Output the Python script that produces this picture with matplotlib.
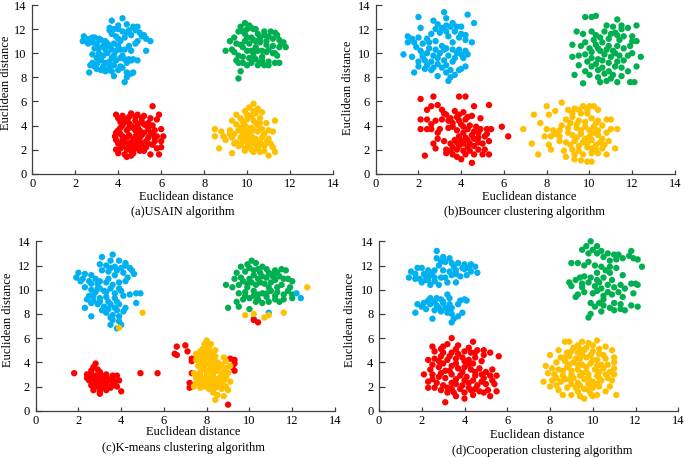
import matplotlib
matplotlib.use("Agg")
import matplotlib.pyplot as plt
import numpy as np

plt.rcParams['font.family'] = ['Liberation Serif', 'DejaVu Serif']

BLUE = '#00B0F0'
GREEN = '#00B050'
RED = '#FF0000'
YELLOW = '#FFC000'

# ---------------- (a) USAIN ----------------
a_blue = [(2.4,11.4),(2.35,11.0),(2.5,11.2),(2.7,11.2),(2.9,11.3),(2.8,10.9),(3.0,10.8),(3.2,11.1),(3.3,10.6),(2.6,10.8),
          (3.7,12.7),(4.2,12.9),(3.6,12.1),(3.8,12.0),(4.0,12.3),(4.4,12.4),(4.7,12.2),(4.9,12.2),(4.5,11.9),(4.2,11.8),
          (3.7,11.6),(3.9,11.4),(4.1,11.0),(4.6,11.5),(5.0,11.7),(5.1,11.4),(5.3,11.2),(5.5,11.0),(5.3,10.2),(4.8,10.8),
          (4.5,10.6),(4.3,10.3),(4.0,10.6),(3.6,10.6),(3.5,10.0),(3.3,9.8),(3.1,10.0),(2.9,10.4),(3.0,9.6),(2.8,9.2),
          (2.7,9.0),(2.65,8.4),(3.0,8.7),(3.2,8.6),(3.4,8.5),(3.6,8.9),(3.8,9.0),(3.9,9.4),(4.2,9.8),(4.4,9.2),
          (4.5,9.5),(4.7,9.5),(4.9,9.4),(4.7,8.4),(4.6,8.3),(4.4,8.0),(4.3,7.6),(3.8,8.1),(4.0,8.6),(4.1,8.9),
          (3.7,9.6),(3.4,9.2),(3.2,9.4),(3.9,10.2),(4.1,9.6),
          (2.5,11.0),(2.8,11.3),(3.1,11.2),(3.4,11.0),(3.5,10.8),(3.8,10.8),(4.0,11.2),(4.3,11.3),(4.4,11.7),(4.8,11.9),
          (4.0,12.0),(3.6,11.9),(4.9,11.0),(5.2,11.5),(3.4,10.3),(3.7,10.3),(4.1,10.3),(2.8,9.9),(3.2,9.7),(3.6,9.3),
          (3.8,9.8),(4.3,9.5),(3.0,9.1),(3.3,8.9),(4.2,8.8),(4.4,8.4),(3.5,8.6),(2.9,8.9),(4.6,9.4),(4.6,10.2),
          (3.7,8.5),(3.1,10.4)]
a_green = [(9.9,12.5),(9.7,12.2),(10.1,12.3),(10.3,12.0),(9.6,11.8),(9.4,11.3),(9.2,11.0),(9.5,10.8),(9.0,10.2),(9.3,10.3),
           (9.5,9.4),(9.6,9.8),(9.8,9.2),(9.7,8.5),(9.6,7.9),(10.0,9.0),(10.2,9.2),(10.5,9.0),(10.8,9.0),(11.0,9.3),
           (11.3,9.2),(11.5,9.2),(11.4,9.8),(11.2,10.0),(11.0,10.3),(10.7,10.2),(10.4,10.5),(10.1,10.8),(9.9,11.0),(10.2,11.3),
           (10.5,11.6),(10.8,11.8),(11.1,11.8),(11.3,11.7),(11.2,11.2),(11.5,11.1),(11.6,10.8),(11.8,10.5),(11.5,10.5),(10.9,11.0),
           (10.6,10.9),(10.3,10.0),(10.0,10.2),(9.8,10.5),(10.1,9.6),(10.4,9.5),(10.7,9.7),(9.9,11.6),(10.3,11.1),(10.0,12.0),
           (10.6,11.3),(11.0,11.4),
           (9.8,11.8),(10.2,12.1),(10.6,11.1),(10.9,10.7),(11.2,10.6),(10.5,10.2),(10.2,10.2),(10.9,10.1),(11.3,10.0),(10.7,9.4),
           (10.3,9.7),(9.8,9.7),(9.4,10.1),(9.7,10.7),(10.0,11.3),(10.4,11.0),(11.0,9.0),(10.6,9.2),(9.6,9.2),(10.8,11.5),
           (11.4,11.5),(11.7,10.9),(10.4,12.0)]
a_red = [(3.9,4.9),(4.0,4.6),(4.3,4.5),(4.6,5.0),(4.9,4.9),(5.2,4.8),(5.6,5.6),(5.5,4.6),(5.9,4.9),(5.8,4.5),
         (4.1,4.3),(4.5,4.2),(4.8,4.4),(5.1,4.3),(5.4,4.2),(6.0,3.7),(5.7,3.6),(5.4,3.7),(5.0,3.6),(4.7,3.8),
         (4.4,3.6),(4.0,3.6),(3.85,3.1),(3.9,2.8),(4.2,3.1),(4.5,3.2),(4.8,3.1),(5.1,3.2),(5.5,3.3),(5.8,3.1),
         (6.1,3.1),(6.0,2.7),(5.7,2.7),(5.3,2.7),(4.9,2.7),(4.6,2.6),(4.3,2.6),(4.0,2.5),(4.1,2.1),(3.9,2.0),
         (4.0,1.7),(4.3,1.6),(4.4,1.4),(4.6,1.9),(4.8,2.1),(5.0,2.2),(5.3,2.2),(5.5,1.6),(5.9,1.6),(5.8,2.1),
         (6.0,2.2),(5.2,1.9),(4.7,1.7),(4.5,2.3),(5.6,2.4),(4.2,4.0),(5.3,4.0),(4.9,3.4),
         (4.2,4.8),(4.5,4.7),(4.8,4.7),(5.1,4.6),(4.3,4.3),(4.6,4.0),(4.9,4.1),(5.2,4.1),(5.6,4.0),(4.1,3.8),
         (4.5,3.8),(4.8,3.6),(5.2,3.4),(5.6,3.4),(4.1,3.3),(4.4,3.0),(4.7,2.9),(5.0,2.9),(5.4,3.0),(4.2,2.8),
         (4.5,2.5),(4.8,2.4),(5.1,2.5),(5.4,2.5),(4.2,2.3),(4.4,2.0),(4.7,2.2),(5.0,1.9),(4.6,1.5),(4.9,3.9),
         (5.7,3.0),(3.9,3.4)]
a_yellow = [(10.3,5.8),(10.1,5.5),(10.5,5.4),(9.5,4.9),(9.7,4.6),(10.0,4.9),(10.2,4.8),(10.6,4.6),(10.9,4.2),(11.3,4.4),
            (9.3,4.4),(9.8,4.3),(10.4,4.2),(8.5,3.7),(8.8,3.5),(9.2,3.6),(8.5,3.1),(8.9,3.1),(9.4,3.3),(9.7,3.0),
            (10.0,3.3),(10.3,3.6),(10.7,3.7),(11.0,3.6),(11.2,3.5),(9.0,2.8),(9.5,2.6),(9.8,2.7),(10.1,2.8),(10.4,2.9),
            (10.7,3.0),(11.0,2.9),(11.1,2.5),(11.2,2.2),(11.3,1.8),(11.0,1.5),(10.5,2.1),(10.2,2.0),(9.9,2.1),(9.6,2.3),
            (9.4,2.5),(9.3,1.7),(8.7,2.1),(10.8,2.3),(10.0,3.8),(9.9,4.0),(10.5,4.0),(10.2,3.1),(9.6,3.6),(10.8,1.9),
            (10.6,2.6),
            (10.3,5.2),(9.9,5.2),(10.4,5.0),(10.7,5.1),(10.0,4.5),(10.3,4.4),(10.6,4.2),(9.5,4.1),(9.7,3.8),(10.2,3.8),
            (10.5,3.5),(10.8,3.3),(9.2,3.3),(9.8,3.3),(10.1,3.5),(9.3,3.0),(9.9,2.9),(10.3,2.6),(10.6,2.4),(9.7,2.4),
            (10.0,2.6),(10.4,2.4),(10.9,2.6),(10.1,2.3),(10.6,1.8),(9.9,1.9),(10.3,1.8),(9.8,3.6)]

# ---------------- (b) Bouncer ----------------
b_blue = [(2.0,13.0),(3.2,13.4),(4.3,13.2),(3.3,12.9),(2.7,12.7),(2.1,12.1),(2.8,12.0),(3.1,12.1),(3.5,12.2),(3.8,12.2),
          (3.0,11.7),(3.3,11.8),(3.7,11.8),(4.0,11.6),(4.2,11.5),(4.6,12.5),(4.2,11.1),(4.5,10.9),(1.5,11.4),(1.7,11.2),
          (2.0,11.3),(1.5,10.9),(1.8,10.9),(2.2,10.8),(2.5,10.9),(2.8,11.0),(3.1,10.6),(3.6,10.9),(3.9,10.3),(4.0,9.9),
          (1.3,9.9),(2.1,10.2),(2.4,10.0),(2.7,9.8),(3.0,10.0),(3.4,9.8),(3.7,9.6),(4.1,9.6),(2.0,9.3),(2.3,9.4),
          (2.6,9.3),(2.9,9.1),(3.3,9.0),(3.6,9.3),(1.8,8.4),(2.0,8.9),(2.3,8.7),(2.6,8.6),(2.9,8.1),(3.3,8.4),
          (3.5,8.0),(3.4,7.7),(3.7,8.2),(3.9,8.6),(4.0,8.7),(2.5,10.4),(3.2,10.3),(4.2,10.2),
          (2.9,12.4),(3.3,12.3),(3.6,12.5),(4.0,12.2),(3.4,11.4),(3.9,11.3),(2.6,11.6),(2.4,11.2),(1.9,10.5),(2.2,9.9),
          (2.8,10.3),(3.3,10.4),(3.6,10.3),(2.9,9.6),(3.2,9.4),(2.4,9.0),(2.7,8.8),(3.1,8.8),(3.5,8.6),(2.2,9.7),
          (1.7,9.7),(3.8,10.0),(4.3,9.9),(4.2,8.9)]
b_green = [(9.8,13.0),(10.1,13.0),(10.3,13.1),(11.3,12.8),(11.1,12.2),(11.5,12.3),(11.8,12.1),(12.2,12.3),(9.4,11.8),(9.7,11.6),
           (10.1,11.8),(10.3,11.5),(10.7,11.8),(11.0,11.6),(11.3,11.5),(11.6,11.4),(12.0,11.4),(12.0,11.0),(12.2,11.0),(9.2,10.7),
           (9.6,10.6),(10.0,10.4),(10.3,10.7),(10.6,10.9),(10.9,10.6),(11.3,10.6),(11.6,10.4),(9.2,9.7),(9.5,9.8),(9.8,9.9),
           (10.1,9.6),(10.4,9.5),(10.7,9.9),(11.0,9.7),(11.4,9.8),(11.8,9.8),(12.4,9.7),(9.5,9.0),(9.8,8.5),(10.1,8.9),
           (10.3,9.1),(10.6,8.8),(10.9,8.5),(11.2,8.9),(11.5,8.8),(11.8,8.5),(12.2,8.9),(9.3,8.2),(10.0,8.2),(10.4,8.0),
           (10.8,7.7),(11.0,7.9),(11.3,7.6),(11.9,7.6),(12.1,7.6),(9.7,7.5),(10.5,7.6),(11.1,10.2),(10.5,10.2),
           (10.8,12.3),(11.5,12.0),(11.2,11.7),(10.5,11.3),(10.9,11.2),(11.4,11.1),(11.9,10.6),(10.2,11.1),(9.8,10.9),(10.1,10.1),
           (10.4,10.4),(10.8,10.3),(11.2,10.0),(11.6,9.4),(10.9,9.2),(11.3,9.3),(10.4,8.6),(10.7,8.3),(11.1,8.2),(11.5,8.1),
           (9.9,9.3),(12.0,10.0),(10.6,9.4)]
b_red = [(2.1,6.2),(2.7,6.4),(3.9,6.4),(4.2,6.4),(2.9,5.7),(2.6,5.6),(2.4,5.3),(3.1,5.3),(3.7,5.2),(4.1,5.1),
         (4.6,5.6),(5.3,5.7),(3.5,4.6),(3.8,4.7),(4.2,4.5),(4.5,4.8),(4.9,4.6),(2.1,4.5),(2.4,4.5),(2.8,4.4),
         (3.1,4.5),(3.6,4.2),(4.0,4.1),(4.4,4.0),(4.7,3.9),(2.1,3.7),(2.4,3.7),(2.6,3.7),(3.0,3.7),(3.4,3.8),
         (3.8,3.6),(4.1,3.4),(4.5,3.2),(4.9,3.7),(5.2,3.7),(5.4,3.7),(5.9,3.9),(6.2,3.1),(5.1,3.1),(4.8,3.0),
         (4.3,2.8),(4.0,2.7),(3.7,2.8),(3.2,2.7),(2.9,2.9),(2.7,2.5),(2.8,2.1),(3.3,2.0),(3.6,2.2),(3.9,2.3),
         (4.3,2.2),(4.6,2.3),(5.0,2.5),(5.3,2.7),(3.3,1.7),(3.6,1.6),(3.8,1.4),(4.2,1.6),(4.6,1.6),(5.0,1.6),
         (5.3,1.6),(2.3,1.5),(4.5,0.9),(4.1,1.9),
         (3.3,4.9),(3.9,4.9),(4.3,4.7),(3.4,4.4),(3.9,4.4),(4.1,3.9),(3.6,3.9),(4.3,3.7),(4.6,3.5),(3.9,3.1),
         (4.2,3.0),(4.6,2.9),(3.5,2.5),(3.8,2.6),(4.1,2.5),(4.4,2.5),(4.8,2.6),(3.5,1.9),(3.8,2.0),(4.4,1.9),
         (4.8,2.0),(5.1,2.0),(4.0,1.2),(2.9,3.4),(2.6,4.1),(3.2,5.0),(5.2,3.3),(4.8,3.4)]
b_yellow = [(8.7,5.9),(8.0,5.6),(8.1,4.9),(7.4,4.9),(8.4,5.2),(9.0,5.3),(9.3,5.4),(9.7,5.6),(10.0,5.6),(10.2,5.6),
            (10.4,5.3),(9.6,5.0),(9.9,5.0),(7.7,4.2),(8.9,4.5),(9.2,4.7),(9.5,4.4),(10.1,4.6),(10.4,4.4),(10.8,4.5),
            (11.0,4.5),(6.9,3.7),(8.0,3.7),(8.3,3.6),(8.6,3.6),(9.0,3.8),(9.4,3.8),(9.8,3.9),(10.2,3.9),(10.6,4.0),
            (11.0,3.7),(11.3,3.7),(7.9,3.1),(8.2,3.1),(8.6,3.1),(9.2,3.2),(9.6,3.3),(10.0,3.1),(10.4,3.2),(10.8,3.4),
            (7.3,2.5),(8.1,2.4),(8.9,2.6),(9.3,2.7),(9.7,2.6),(10.1,2.8),(10.5,2.6),(10.9,2.7),(8.2,2.0),(8.8,1.9),
            (9.2,2.0),(9.5,1.9),(9.9,2.2),(10.3,2.0),(10.6,2.1),(11.2,2.1),(7.6,1.6),(8.9,1.4),(9.3,1.2),(9.6,1.1),
            (9.9,1.0),(10.1,1.0),(10.4,1.7),(10.8,1.6),
            (9.5,5.3),(9.9,5.3),(9.2,5.0),(9.4,4.1),(9.8,4.3),(10.3,4.2),(9.1,4.2),(8.7,4.0),(9.6,3.6),(10.0,3.6),
            (10.4,3.6),(9.0,3.4),(9.4,3.0),(9.8,2.9),(10.2,3.4),(10.6,2.9),(9.1,2.4),(9.5,2.3),(9.9,2.5),(10.3,2.4),
            (10.7,2.4),(9.3,1.6),(9.7,1.6),(10.1,1.7),(8.6,2.7),(8.4,3.3),(10.1,2.1)]

# ---------------- (c) K-means ----------------
c_blue = [(3.6,12.9),(3.1,12.7),(3.5,12.4),(3.9,12.4),(4.2,12.2),(3.0,12.1),(3.3,12.0),(3.7,11.9),(4.0,11.8),(4.4,11.8),
          (4.5,11.6),(4.6,11.3),(3.1,11.6),(3.4,11.5),(3.7,11.2),(4.3,11.0),(2.0,11.4),(2.3,11.3),(2.6,11.2),(1.9,11.0),
          (2.2,10.9),(2.5,10.7),(2.8,10.9),(3.0,10.7),(3.3,10.6),(3.9,10.6),(4.2,10.7),(2.3,10.2),(2.6,10.0),(2.9,10.1),
          (3.2,9.9),(3.5,10.1),(3.9,10.1),(4.4,9.6),(4.7,9.7),(4.9,9.7),(2.4,9.2),(2.7,9.5),(3.0,9.3),(3.3,9.4),
          (3.7,9.3),(4.1,9.5),(2.3,8.5),(2.6,8.9),(2.9,8.8),(3.2,8.6),(3.5,8.8),(3.9,8.8),(4.2,8.5),(4.7,8.9),
          (2.6,7.8),(3.3,8.1),(3.6,7.9),(3.9,7.8),(3.5,7.7),(3.9,7.4),(4.0,7.1),(3.5,7.1),(3.8,6.8),(4.1,8.2),
          (3.0,9.0),
          (3.5,11.8),(3.8,11.6),(4.1,11.4),(4.2,12.0),(2.6,10.5),(2.9,10.5),(3.4,10.9),(3.6,10.4),(3.0,10.1),(3.3,9.8),
          (3.7,9.7),(4.0,9.9),(2.8,9.8),(2.7,9.1),(3.4,9.0),(3.8,9.0),(3.1,8.3),(3.4,8.4),(3.7,8.5),(2.5,9.5),
          (2.1,10.7),(3.6,7.5),(3.8,8.3),
          (12.2,9.7),(12.4,9.3),(10.9,8.1),(10.2,7.6)]
c_green = [(10.1,12.4),(9.9,12.1),(10.3,12.2),(10.6,11.9),(9.6,11.9),(9.4,11.4),(9.8,11.5),(10.2,11.6),(10.5,11.4),(10.9,11.4),
           (11.2,11.6),(11.5,11.7),(11.7,11.6),(9.3,10.9),(9.6,11.0),(10.0,10.9),(10.4,10.9),(10.8,11.0),(11.1,11.1),(11.4,11.1),
           (11.8,10.9),(12.0,10.7),(8.9,10.4),(9.2,10.2),(9.5,10.4),(9.9,10.5),(10.3,10.4),(10.7,10.5),(11.0,10.6),(11.5,10.4),
           (11.9,10.2),(9.5,9.7),(9.8,9.8),(10.2,9.9),(10.6,9.7),(11.0,9.9),(11.3,9.8),(11.6,9.6),(12.0,9.6),(9.4,9.0),
           (9.7,9.2),(10.0,9.3),(10.4,9.2),(10.8,9.4),(11.2,9.2),(11.6,9.2),(12.0,9.3),(10.3,9.0),(10.6,8.9),(10.0,8.4),
           (9.0,8.5),(9.5,8.6),(10.9,9.0),
           (10.0,11.8),(10.4,11.7),(10.8,11.7),(10.2,11.2),(10.6,11.1),(11.0,11.3),(11.3,11.4),(9.9,10.2),(10.1,10.6),(10.5,10.6),
           (10.9,10.2),(11.3,10.2),(11.2,10.8),(11.6,10.9),(10.4,9.6),(10.8,9.7),(11.2,9.5),(9.8,9.5),(10.2,9.5),(11.8,9.9),
           (11.4,9.0),(9.7,10.7)]
c_red = [(2.8,3.9),(2.7,3.6),(2.6,3.3),(3.0,3.2),(2.4,3.0),(1.8,3.1),(2.5,2.8),(2.8,2.9),(3.1,2.9),(3.3,2.8),
         (3.6,2.9),(3.8,2.9),(2.5,2.5),(2.8,2.4),(3.0,2.6),(3.2,2.4),(3.5,2.5),(3.7,2.4),(2.6,2.1),(2.9,2.0),
         (3.1,2.1),(3.4,2.0),(3.6,2.1),(3.8,2.0),(2.7,1.7),(3.0,1.6),(3.3,1.7),(3.0,1.4),(4.0,1.6),(3.5,1.9),
         (2.9,3.4),(3.3,3.0),(2.6,3.0),(2.9,2.7),(3.2,2.7),(3.4,2.6),(2.7,2.6),(3.0,2.3),(3.3,2.2),(2.8,2.2),
         (3.1,1.9),(2.4,2.7),(3.6,2.6),(3.9,2.5),
         (4.9,3.1),(5.7,3.1),(9.0,0.5),
         (6.5,4.7),(6.6,5.3),(7.0,5.4),(7.1,4.9),(6.6,4.6),(7.3,4.3),(7.3,4.1),(7.3,3.1),(7.2,2.3),(7.2,1.9),
         (7.3,2.0),(9.1,4.3),(9.3,4.2),(9.3,3.9),(9.3,3.3),(9.2,3.6),(10.2,7.5),(10.4,7.3)]
c_yellow = [(8.0,5.8),(7.9,5.5),(8.2,5.5),(7.8,5.1),(8.1,5.1),(8.4,5.0),(7.5,4.7),(7.8,4.7),(8.1,4.6),(8.4,4.5),
            (8.8,4.4),(7.5,4.2),(7.8,4.2),(8.2,4.1),(8.5,4.0),(8.9,4.1),(7.6,3.7),(7.9,3.7),(8.2,3.5),(8.6,3.6),
            (8.9,3.5),(9.1,3.7),(7.4,3.1),(7.7,3.2),(8.0,3.2),(8.3,3.1),(8.7,3.0),(9.0,3.1),(7.5,2.7),(7.8,2.6),
            (8.1,2.7),(8.4,2.6),(8.8,2.5),(9.1,2.4),(7.5,2.3),(7.7,2.2),(8.0,2.2),(8.3,2.1),(8.6,2.2),(8.9,2.0),
            (7.7,1.9),(8.1,1.8),(8.4,1.9),(8.7,1.8),(9.0,1.7),(8.3,1.5),(8.5,1.3),(8.4,0.9),(8.8,1.2),(7.6,2.9),
            (8.5,3.3),(8.2,4.8),(7.9,4.0),
            (8.0,5.3),(7.7,4.9),(8.0,4.9),(7.6,4.4),(8.0,4.4),(8.3,4.3),(7.7,3.9),(8.1,3.8),(8.4,3.8),(8.7,3.8),
            (7.8,3.4),(8.1,3.3),(8.4,3.4),(8.8,3.2),(7.7,2.9),(8.0,2.9),(8.3,2.8),(8.6,2.7),(8.9,2.8),(7.6,2.5),
            (7.9,2.4),(8.2,2.4),(8.5,2.4),(7.9,2.0),(8.2,2.0),(8.5,2.0),(8.7,2.3),(7.4,2.0),
            (12.7,10.2),(11.6,8.1),(10.9,7.9),(10.7,7.7),(9.8,7.9),(10.2,8.0),(5.0,8.1),(3.9,6.85)]

# ---------------- (d) Cooperation ----------------
d_blue = [(2.7,13.2),(2.7,12.6),(3.0,12.7),(3.3,12.6),(2.9,12.3),(3.4,12.2),(3.7,12.2),(4.0,12.1),(4.3,12.1),(4.5,11.9),
          (1.8,11.8),(2.0,11.8),(2.3,11.6),(1.5,11.5),(1.7,11.3),(2.1,11.3),(2.5,11.4),(3.0,11.6),(3.3,11.5),(3.6,11.6),
          (4.0,11.7),(4.3,11.5),(4.6,11.4),(1.4,11.0),(1.9,10.9),(2.3,10.8),(2.6,11.0),(3.1,11.0),(3.4,11.2),(3.8,11.1),
          (2.0,10.6),(2.4,10.4),(2.8,10.4),(3.2,10.6),(3.6,10.6),(2.2,10.8),
          (2.8,12.0),(3.1,12.3),(3.5,11.9),(3.9,11.8),(4.2,11.8),(2.6,11.6),(2.2,11.1),(2.4,11.2),(2.9,11.0),(3.6,11.3),
          (4.1,11.2),(1.7,10.9),(2.6,10.7),
          (3.2,9.6),(2.4,9.3),(2.7,9.3),(3.0,9.0),(3.3,9.3),(3.8,9.1),(4.0,9.2),(4.1,9.1),(1.8,8.8),(2.1,8.9),
          (2.4,8.8),(2.7,8.7),(3.1,8.5),(3.4,8.5),(3.7,8.8),(2.2,8.4),(2.6,8.3),(2.9,8.2),(3.2,8.1),(3.4,8.0),
          (1.7,8.1),(3.9,8.1),(3.7,7.8),(2.5,7.6),(3.5,7.6),(3.4,7.3),(3.0,8.9),(2.0,8.6),
          (2.6,9.0),(2.9,9.2),(3.3,8.8),(2.3,9.1),(2.8,8.5),(3.3,8.3)]
d_green = [(9.9,14.0),(9.7,13.6),(10.2,13.6),(10.0,13.3),(9.5,13.3),(10.4,13.2),(10.7,13.0),(11.0,12.9),(11.2,12.9),(11.8,13.2),
           (11.7,12.8),(11.9,12.6),(12.1,12.5),(10.5,12.7),(11.1,12.5),(9.0,12.2),(9.3,12.2),(9.6,12.0),(10.1,12.0),(10.4,11.9),
           (10.8,11.9),(11.1,11.8),(12.3,11.9),(10.6,11.6),(9.6,11.1),(9.9,11.0),(10.2,10.8),(10.5,11.0),(11.4,11.2),(8.9,10.6),
           (9.2,10.8),(9.5,10.5),(10.1,10.3),(10.4,10.1),(10.7,10.4),(11.0,10.2),(11.3,10.4),(11.8,10.5),(12.1,10.4),(9.0,10.3),
           (9.3,9.6),(9.6,9.8),(10.0,9.7),(10.5,9.5),(10.9,9.6),(11.2,9.8),(11.9,9.7),(9.2,9.4),(10.5,9.2),(11.0,8.9),
           (11.3,8.8),(9.9,8.9),(10.1,8.6),(10.5,8.7),(10.8,8.5),(11.5,8.3),(11.8,8.7),(12.1,8.6),(10.4,8.2),(11.0,8.3),
           (9.9,8.0),(9.8,7.7),
           (9.8,13.0),(10.2,13.0),(10.8,12.4),(11.4,12.6),(9.8,12.3),(10.8,11.4),(10.2,11.4),(9.8,10.6),(10.3,10.6),(10.9,10.8),
           (11.5,10.1),(9.5,10.2),(10.2,9.9),(10.7,9.8),(11.4,9.4),(10.3,8.9),(11.3,8.4),(12.0,10.5),(9.4,11.0)]
d_red = [(3.4,6.0),(2.5,5.3),(2.9,5.1),(3.2,5.5),(3.7,5.4),(4.4,5.7),(2.6,4.9),(3.0,4.8),(3.4,4.8),(3.7,4.7),
         (4.0,4.9),(4.3,4.8),(4.6,5.0),(4.9,5.0),(2.3,4.2),(2.6,4.3),(2.9,4.5),(3.2,4.2),(3.6,4.3),(3.9,4.4),
         (4.2,4.2),(4.5,4.4),(4.8,4.1),(5.6,4.5),(2.5,3.8),(2.8,3.6),(3.1,3.3),(3.4,3.7),(3.7,3.5),(4.0,3.6),
         (4.3,3.4),(4.7,3.5),(5.0,3.2),(5.3,3.4),(5.5,2.9),(2.1,3.0),(2.5,3.0),(2.8,2.8),(3.1,2.7),(3.4,3.0),
         (3.8,2.9),(4.1,2.8),(4.5,2.9),(4.9,2.7),(5.2,2.9),(2.3,2.4),(2.7,2.3),(3.0,2.1),(3.4,2.3),(3.6,2.2),
         (3.9,2.1),(4.2,2.3),(4.6,2.1),(5.0,2.2),(2.3,1.9),(2.6,1.9),(2.9,1.7),(3.2,1.5),(3.5,1.5),(3.8,1.8),
         (4.0,1.5),(4.4,1.3),(4.7,1.6),(5.1,1.7),(5.5,1.6),(3.6,1.2),(4.0,1.0),(3.1,0.7),(5.2,1.2),(4.3,1.7),
         (3.0,5.3),(3.6,5.1),(4.2,5.2),(4.5,4.8),(2.8,4.1),(3.3,4.5),(4.0,4.1),(4.4,3.9),(4.9,4.6),(5.2,4.8),
         (3.0,3.9),(3.6,3.9),(4.2,3.8),(2.4,3.4),(3.3,3.3),(4.5,3.2),(4.8,3.0),(2.9,3.1),(3.6,2.6),(4.0,2.5),
         (4.4,2.5),(4.8,2.4),(5.4,2.2),(2.5,2.6),(3.2,1.9),(4.2,1.9),(4.5,1.8),(4.9,1.5),(3.4,1.8),(5.3,2.5),
         (3.9,3.2)]
d_yellow = [(8.7,5.7),(8.9,5.7),(9.5,5.7),(9.8,5.6),(10.2,5.8),(9.3,5.4),(9.7,5.2),(10.0,5.4),(10.6,5.3),(8.4,5.0),
            (9.0,4.9),(9.3,4.8),(9.6,5.0),(10.0,4.9),(10.3,4.7),(10.9,5.0),(8.0,4.6),(8.5,4.4),(8.9,4.5),(9.2,4.3),
            (9.7,4.4),(10.2,4.2),(10.6,4.3),(11.0,4.4),(8.3,4.0),(8.7,4.1),(9.1,4.0),(9.5,3.8),(9.9,3.9),(10.4,3.8),
            (11.0,4.0),(7.8,3.7),(8.1,3.5),(8.4,3.4),(8.8,3.6),(9.3,3.4),(9.7,3.2),(10.1,3.4),(10.5,3.5),(11.0,3.5),
            (7.9,3.1),(8.2,3.0),(8.6,2.9),(9.0,3.0),(9.4,2.9),(9.8,3.0),(10.2,2.9),(10.6,3.0),(11.0,3.0),(7.7,2.4),
            (8.1,2.5),(8.5,2.4),(8.9,2.6),(9.3,2.3),(9.6,2.6),(10.0,2.4),(10.4,2.5),(10.9,2.5),(8.0,2.0),(8.3,2.1),
            (8.8,1.9),(9.2,1.9),(9.6,1.8),(10.0,1.9),(10.3,2.0),(10.6,1.6),(8.4,1.7),(8.6,1.3),(9.0,1.3),(9.4,1.2),
            (9.6,1.0),(9.9,1.4),(10.2,1.3),(11.1,1.3),(10.8,2.0),
            (9.1,5.2),(9.4,5.1),(10.3,5.1),(8.8,4.8),(8.7,4.4),(9.5,4.6),(9.9,4.6),(10.5,4.6),(9.4,4.3),(10.0,4.2),
            (8.9,3.8),(9.3,3.8),(9.7,3.6),(10.2,3.7),(10.7,3.8),(8.6,3.3),(9.0,3.3),(9.5,3.1),(10.3,3.2),(10.8,3.2),
            (8.3,2.7),(8.7,2.6),(9.1,2.7),(9.8,2.7),(10.3,2.7),(10.7,2.7),(9.0,2.2),(9.4,2.1),(9.8,2.2),(10.2,2.2),
            (9.3,1.6),(9.8,1.7),(10.0,1.2)]

ticks = [0, 2, 4, 6, 8, 10, 12, 14]
xlabel = "Euclidean distance"
ylabel = "Euclidean distance"
titles = ["(a)USAIN algorithm", "(b)Bouncer clustering algorithm",
          "(c)K-means clustering algorithm", "(d)Cooperation clustering algorithm"]

W, H = 685, 458
fig = plt.figure(figsize=(W/100, H/100), dpi=100)

# axes pixel boxes: (left, right, top, bottom)
boxes = [(32.3, 333.0, 5.0, 173.7), (375.7, 675.0, 5.0, 173.7),
         (35.7, 335.0, 241.3, 410.7), (379.0, 678.3, 241.3, 410.7)]
xlab_pos = [(186, 197), (529, 197), (193, 432), (537, 435)]
title_pos = [(183, 212), (524, 212), (183, 448), (542, 451)]
ylab_pos = [(6, 83), (348, 88), (8, 320), (350, 320)]

data = [(a_blue, a_green, a_red, a_yellow), (b_blue, b_green, b_red, b_yellow),
        (c_blue, c_green, c_red, c_yellow), (d_blue, d_green, d_red, d_yellow)]

FS = 9
for i, (l, r, t, b) in enumerate(boxes):
    ax = fig.add_axes([l/W, 1 - b/H, (r-l)/W, (b-t)/H])
    blue, green, red, yellow = data[i]
    for pts, col in [(green, GREEN), (blue, BLUE), (red, RED), (yellow, YELLOW)]:
        arr = np.array(pts)
        ax.scatter(arr[:, 0], arr[:, 1], s=21, c=col, edgecolors='none', clip_on=False, zorder=3)
    ax.set_xlim(0, 14)
    ax.set_ylim(0, 14)
    ax.set_xticks(ticks)
    ax.set_yticks(ticks)
    for sp in ['top', 'right']:
        ax.spines[sp].set_visible(False)
    for sp in ['left', 'bottom']:
        ax.spines[sp].set_color('#404040')
        ax.spines[sp].set_linewidth(0.9)
    ax.tick_params(axis='x', direction='in', length=2.8, width=0.9, color='#404040', labelsize=FS, pad=3)
    ax.tick_params(axis='y', direction='in', length=4.5, width=0.9, color='#404040', labelsize=FS, pad=4)
    fig.text(xlab_pos[i][0]/W, 1 - xlab_pos[i][1]/H, xlabel, ha='center', va='center', fontsize=FS)
    fig.text(title_pos[i][0]/W, 1 - title_pos[i][1]/H, titles[i], ha='center', va='center', fontsize=FS)
    fig.text(ylab_pos[i][0]/W, 1 - ylab_pos[i][1]/H, ylabel, ha='center', va='center', fontsize=FS, rotation=90)

fig.savefig("out.png", dpi=100)
